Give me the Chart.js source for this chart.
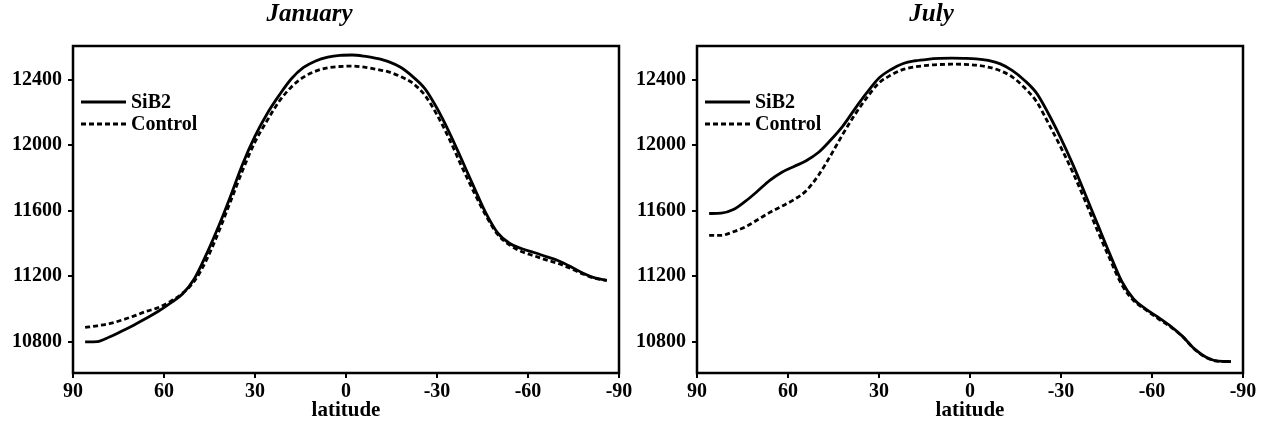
<!DOCTYPE html>
<html>
<head>
<meta charset="utf-8">
<script src="https://cdn.jsdelivr.net/npm/chart.js@4.4.1/dist/chart.umd.min.js"></script>
<style>
  html, body { margin: 0; padding: 0; background: #fff; overflow: hidden; }
  body { width: 1270px; height: 424px; position: relative; }
  canvas { position: absolute; top: 0; }
  #jan { left: 0; }
  #jul { left: 620px; }
</style>
</head>
<body>
<canvas id="jan" width="714" height="424"></canvas>
<canvas id="jul" width="700" height="424"></canvas>
<script>
// Latitude grid (degrees, north positive) shared by all curves
const latitude = [86, 82, 78, 74, 70, 66, 62, 58, 54, 50, 46, 42, 38, 34, 30, 26, 22, 18, 14, 10, 6, 2,
  -2, -6, -10, -14, -18, -22, -26, -30, -34, -38, -42, -46, -50, -54, -58, -62, -66, -70, -74, -78, -82, -86];

// January
const janSiB2 = [10800, 10802, 10830, 10865, 10902, 10942, 10985, 11035, 11090, 11185, 11335, 11505, 11692, 11888, 12055, 12192, 12305, 12405, 12474, 12514, 12537, 12548,
  12550, 12543, 12530, 12510, 12475, 12418, 12345, 12225, 12080, 11918, 11752, 11590, 11465, 11400, 11368, 11345, 11320, 11295, 11260, 11220, 11190, 11175];
const janControl = [10888, 10898, 10911, 10932, 10957, 10985, 11008, 11045, 11095, 11170, 11300, 11470, 11660, 11850, 12020, 12150, 12268, 12355, 12415, 12452, 12472, 12480,
  12482, 12476, 12463, 12447, 12418, 12378, 12305, 12185, 12040, 11876, 11720, 11575, 11455, 11390, 11350, 11325, 11300, 11278, 11248, 11215, 11188, 11175];

// July
const julSiB2 = [11583, 11585, 11607, 11658, 11720, 11785, 11835, 11870, 11905, 11955, 12030, 12115, 12220, 12320, 12410, 12462, 12498, 12515, 12524, 12529, 12531, 12530,
  12527, 12517, 12496, 12455, 12395, 12316, 12187, 12040, 11878, 11700, 11520, 11340, 11170, 11060, 11000, 10950, 10898, 10835, 10757, 10705, 10682, 10680];
const julControl = [11450, 11450, 11472, 11502, 11545, 11590, 11628, 11668, 11722, 11815, 11935, 12065, 12185, 12290, 12380, 12428, 12462, 12478, 12487, 12492, 12494, 12493,
  12488, 12476, 12454, 12415, 12350, 12264, 12128, 11985, 11830, 11658, 11480, 11310, 11150, 11050, 10995, 10942, 10893, 10833, 10755, 10703, 10681, 10680];

const latTicks = [90, 60, 30, 0, -30, -60, -90];
const heightTicks = [10800, 11200, 11600, 12000, 12400];
const seriesNames = ['SiB2', 'Control'];

const serif = 'Liberation Serif';

// frame round the plot and the legend inside the top-left corner
const boxLegend = {
  id: 'boxLegend',
  afterDatasetsDraw(chart) {
    const {ctx, chartArea} = chart;
    ctx.save();
    ctx.strokeStyle = '#000';
    ctx.lineWidth = 2.5;
    ctx.strokeRect(chartArea.left, chartArea.top, chartArea.right - chartArea.left, chartArea.bottom - chartArea.top);
    chart.data.datasets.forEach((ds, i) => {
      const x = chartArea.left + 8;
      const y = chartArea.top + 56 + i * 22;
      ctx.setLineDash(ds.borderDash || []);
      ctx.lineWidth = ds.borderWidth;
      ctx.beginPath();
      ctx.moveTo(x, y);
      ctx.lineTo(x + 45, y);
      ctx.stroke();
      ctx.setLineDash([]);
      ctx.font = 'bold 20px "' + serif + '"';
      ctx.fillStyle = '#000';
      ctx.textBaseline = 'middle';
      ctx.fillText(ds.label, x + 50, y + 1);
    });
    ctx.restore();
  }
};

function makeChart(id, title, sib2, control, yWidth, padRight) {
  const pts = vals => latitude.map((lat, i) => ({x: lat, y: vals[i]}));
  return new Chart(document.getElementById(id), {
    type: 'line',
    data: {
      datasets: [
        {label: seriesNames[0], data: pts(sib2), borderColor: '#000', borderWidth: 2.8, pointRadius: 0, cubicInterpolationMode: 'monotone'},
        {label: seriesNames[1], data: pts(control), borderColor: '#000', borderWidth: 2.8, borderDash: [5, 3], pointRadius: 0, cubicInterpolationMode: 'monotone'}
      ]
    },
    options: {
      responsive: false,
      animation: false,
      layout: {padding: {left: 0, right: padRight, top: 0, bottom: 0}},
      plugins: {
        legend: {display: false},
        tooltip: {enabled: false},
        title: {
          display: true,
          text: title,
          color: '#000',
          font: {family: serif, size: 25, weight: 'bold', style: 'italic'},
          padding: {top: 0, bottom: 16}
        }
      },
      scales: {
        x: {
          type: 'linear',
          reverse: true,
          min: -90,
          max: 90,
          afterBuildTicks: s => { s.ticks = latTicks.map(v => ({value: v})); },
          afterFit: s => { s.height = 51; },
          border: {display: false},
          grid: {drawOnChartArea: false, drawTicks: true, tickLength: 5, color: '#000', lineWidth: 2},
          ticks: {color: '#000', padding: 2, maxRotation: 0, font: {family: serif, size: 20, weight: 'bold'}, callback: v => String(v)},
          title: {display: true, text: 'latitude', color: '#000', padding: {top: 0, bottom: 1}, font: {family: serif, size: 21, weight: 'bold'}}
        },
        y: {
          min: 10610,
          max: 12605,
          afterBuildTicks: s => { s.ticks = heightTicks.map(v => ({value: v})); },
          afterFit: s => { s.width = yWidth; },
          border: {display: false},
          grid: {drawOnChartArea: false, drawTicks: true, tickLength: 5, color: '#000', lineWidth: 2},
          ticks: {color: '#000', padding: 6, font: {family: serif, size: 20, weight: 'bold'}, callback: v => String(v)}
        }
      }
    },
    plugins: [boxLegend]
  });
}

makeChart('jan', 'January', janSiB2, janControl, 73, 95);
makeChart('jul', 'July', julSiB2, julControl, 77, 77);
</script>
</body>
</html>
